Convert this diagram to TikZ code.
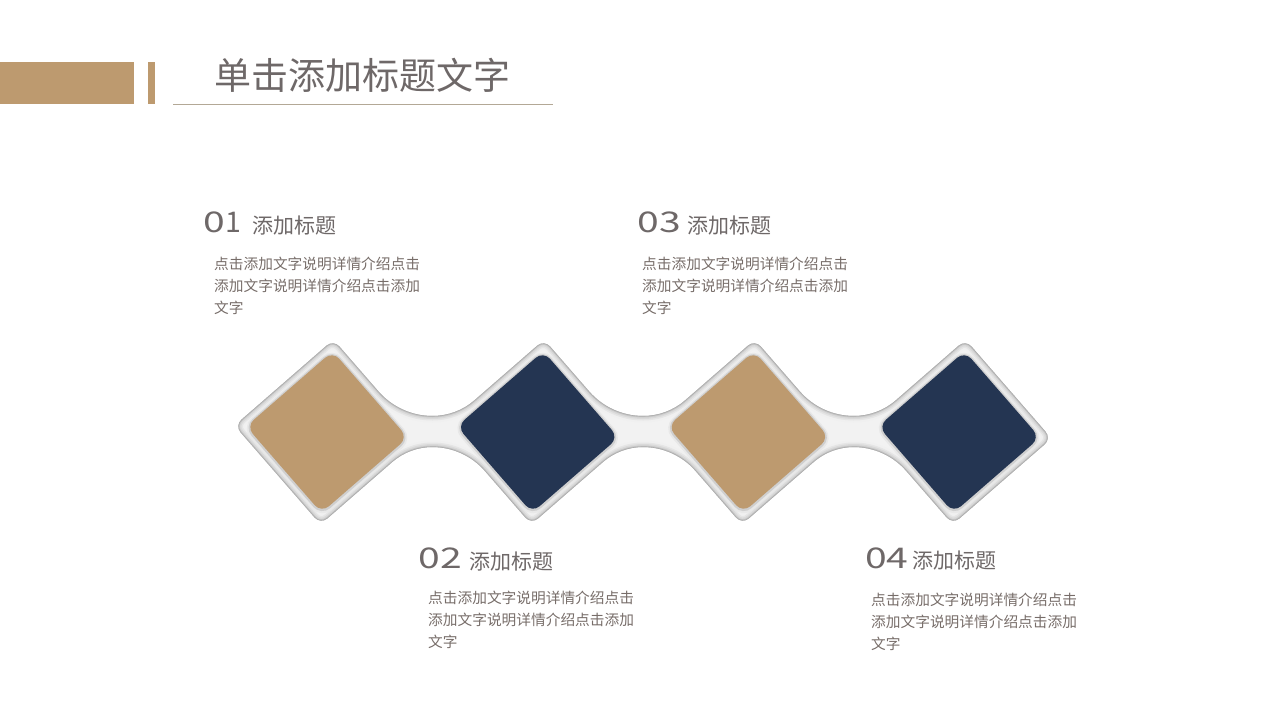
\documentclass[tikz,border=0pt]{standalone}
\usepackage{graphicx}
\usepackage{fontspec}
\setmainfont{Noto Sans CJK SC}
\definecolor{tanc}{HTML}{BD9A6F}
\definecolor{navy}{HTML}{243552}
\definecolor{txt}{HTML}{6E6868}
\definecolor{bodyc}{HTML}{776D69}
\definecolor{bandc}{HTML}{F2F2F2}
\definecolor{linec}{HTML}{B3A896}
\tikzset{
  num/.style={anchor=base west, inner sep=0, text=txt, font=\fontsize{28.5}{32}\selectfont},
  hd/.style={anchor=base west, inner sep=0, text=txt, font=\fontsize{21}{24}\selectfont},
  bodyt/.style={anchor=base west, inner sep=0, text=bodyc, font=\fontsize{14.7}{18}\selectfont},
  titlet/.style={anchor=base west, inner sep=0, text=txt, font=\fontsize{37}{40}\selectfont},
}
\newcommand{\bodyblock}[3]{%
  \node[bodyt] (#1a) at (#2,#3) {点击添加文字说明详情介绍点击};
  \node[bodyt] (#1b) at (#2,#3+22) {添加文字说明详情介绍点击添加};
  \node[bodyt] (#1c) at (#2,#3+44) {文字};}
\newcommand{\wide}[1]{\scalebox{1.37}[1]{#1}}
\def\bandpath{(327-85.5,432-12.35)
  \foreach \cx in {327,537.7,748.4}{ -- (\cx-0.35,432-86.4) .. controls (\cx+3.43,432-89.7) and (\cx+9.07,432-89.3) .. (\cx+12.35,432-85.5)
    -- (\cx+51.4,432-40.6) .. controls (\cx+65,432-25) and (\cx+84.65,432-16) .. (\cx+105.35,432-16)
    .. controls (\cx+120.85,432-16) and (\cx+135.8,432-21.5) .. (\cx+147.5,432-31.7) }
  -- (959.1-0.35,432-86.4) .. controls (959.1+3.43,432-89.7) and (959.1+9.07,432-89.3) .. (959.1+12.35,432-85.5)
  -- (959.1+86.4,432-0.35) .. controls (959.1+89.7,432+3.43) and (959.1+89.3,432+9.07) .. (959.1+85.5,432+12.35)
  -- (959.1+0.35,432+86.4) .. controls (959.1-3.43,432+89.7) and (959.1-9.07,432+89.3) .. (959.1-12.35,432+85.5)
  \foreach \cx in {748.4,537.7,327}{ -- (\cx+157.85,432+38.9) .. controls (\cx+144.65,432+23.7) and (\cx+125.45,432+15) .. (\cx+105.35,432+15)
    .. controls (\cx+90.6,432+15) and (\cx+76.3,432+20.3) .. (\cx+65.2,432+30)
    -- (\cx+0.35,432+86.4) .. controls (\cx-3.43,432+89.7) and (\cx-9.07,432+89.3) .. (\cx-12.35,432+85.5) }
  -- (327-86.4,432+0.35) .. controls (327-89.7,432-3.43) and (327-89.3,432-9.07) .. (327-85.5,432-12.35)
  -- cycle}
\begin{document}
\begin{tikzpicture}[x=1pt,y=-1pt]
\useasboundingbox (0,0) rectangle (1280,720);
% header
\fill[tanc] (0,62) rectangle (134,104);
\fill[tanc] (148,62) rectangle (155,104);
\draw[linec, line width=1] (173,104.5) -- (553,104.5);
\node[titlet] (title) at (214,89) {单击添加标题文字};
% band
\fill[bandc] \bandpath;
\begin{scope}
  \clip \bandpath;
  \draw[line width=13, color=black!6] \bandpath;
  \draw[line width=9, color=black!10] \bandpath;
  \draw[line width=6, color=black!15] \bandpath;
  \draw[line width=3, color=black!22] \bandpath;
  \draw[line width=1.2, color=black!32] \bandpath;
\end{scope}
% inner squares
\foreach \cx/\col in {327/tanc,537.7/navy,748.4/tanc,959.1/navy}{
  \draw[rounded corners=10, line width=7, color=black!9] (\cx+5.65,433-80.8) -- (\cx+80.8,433+5.65) -- (\cx-5.65,433+80.8) -- (\cx-80.8,433-5.65) -- cycle;
  \draw[rounded corners=10, line width=3.5, color=black!19] (\cx+5.65,432.6-80.8) -- (\cx+80.8,432.6+5.65) -- (\cx-5.65,432.6+80.8) -- (\cx-80.8,432.6-5.65) -- cycle;
  \fill[\col, rounded corners=10] (\cx+5.65,432-80.8) -- (\cx+80.8,432+5.65) -- (\cx-5.65,432+80.8) -- (\cx-80.8,432-5.65) -- cycle;
}
% block 01
\node[num] (n1) at (203.4,232.6) {\wide{0}1};
\node[hd] (h1) at (252,233.5) {添加标题};
\bodyblock{b1}{214}{269}
% block 03
\node[num] (n3) at (637.7,232.6) {\wide{03}};
\node[hd] (h3) at (687.5,233) {添加标题};
\bodyblock{b3}{642}{269}
% block 02
\node[num] (n2) at (418.4,568.5) {\wide{02}};
\node[hd] (h2) at (469.5,569.7) {添加标题};
\bodyblock{b2}{428}{603.5}
% block 04
\node[num] (n4) at (865,568.5) {\wide{04}};
\node[hd] (h4) at (912.5,568.7) {添加标题};
\bodyblock{b4}{871}{605.5}
\end{tikzpicture}
\end{document}
